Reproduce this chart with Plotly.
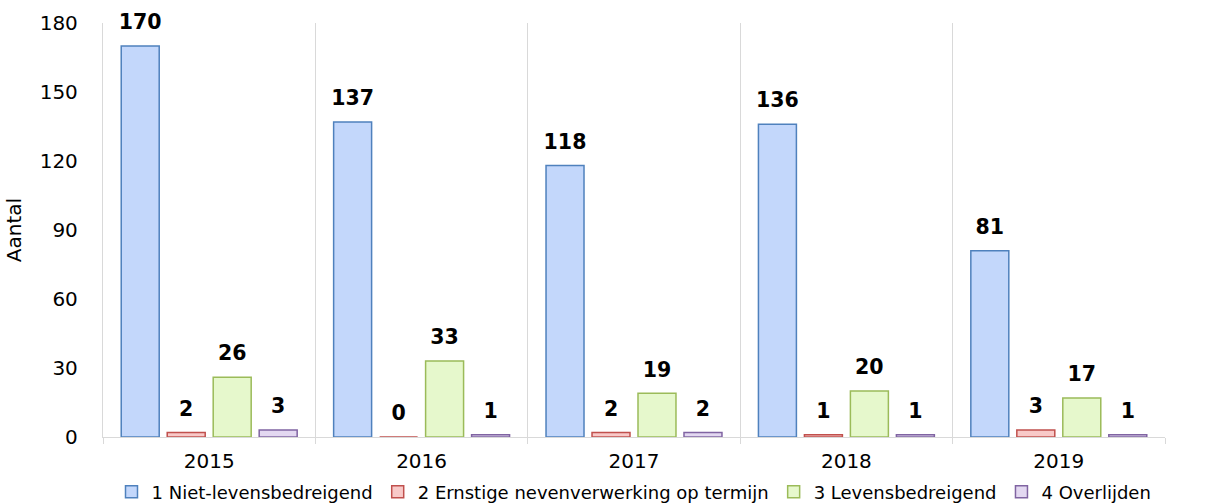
import plotly.graph_objects as go

years = ["2015", "2016", "2017", "2018", "2019"]
series_names = [
    "1 Niet-levensbedreigend",
    "2 Ernstige nevenverwerking op termijn",
    "3 Levensbedreigend",
    "4 Overlijden",
]
niet_levensbedreigend = [170, 137, 118, 136, 81]
ernstige_nevenverwerking = [2, 0, 2, 1, 3]
levensbedreigend = [26, 33, 19, 20, 17]
overlijden = [3, 1, 2, 1, 1]

values = [niet_levensbedreigend, ernstige_nevenverwerking, levensbedreigend, overlijden]
fills = ["#c3d7fb", "#f8c9c8", "#e6f8cc", "#e3d8f1"]
edges = ["#4f81bd", "#c0504d", "#9bbb59", "#8064a2"]

font_family = "DejaVu Sans, Verdana, sans-serif"
GAP = 0.134

fig = go.Figure()
for name, vals, fill, edge in zip(series_names, values, fills, edges):
    fig.add_trace(go.Bar(
        x=years, y=vals, name=name,
        marker=dict(color=fill, line=dict(color=edge, width=1.5)),
        hoverinfo="x+y+name",
    ))

# value labels, grouped like the bars so each sits above its own bar;
# the invisible marker keeps the label clear of the bar top
for name, vals in zip(series_names, values):
    fig.add_trace(go.Scatter(
        x=years, y=vals, mode="markers+text", text=[str(v) for v in vals],
        textposition="top center",
        marker=dict(size=17, color="rgba(0,0,0,0)"),
        textfont=dict(family=font_family, size=20.5, color="#000000", weight="bold"),
        showlegend=False, hoverinfo="skip", cliponaxis=False,
    ))

fig.update_layout(
    width=1219, height=503,
    margin=dict(l=103, r=54, t=23, b=66, autoexpand=False),
    paper_bgcolor="white", plot_bgcolor="white",
    barmode="group", bargap=GAP, bargroupgap=0.174,
    scattermode="group", scattergap=GAP,
    font=dict(family=font_family, size=20, color="#000000"),
    showlegend=True,
    legend=dict(orientation="h", x=0.5, xanchor="center",
                y=-0.133, yanchor="middle",
                font=dict(size=18), itemwidth=30, tracegroupgap=0,
                itemclick=False),
)
fig.update_xaxes(
    type="category", tickson="boundaries", ticks="outside", ticklen=6,
    tickcolor="#d9d9d9", showgrid=True, gridcolor="#d9d9d9", gridwidth=1.3,
    showline=True, linecolor="#d9d9d9", linewidth=1.3,
    tickfont=dict(size=20), ticklabelstandoff=6, fixedrange=True,
)
fig.update_yaxes(
    range=[0, 180], tickvals=[0, 30, 60, 90, 120, 150, 180],
    showgrid=False, zeroline=False, showline=True, linecolor="#d9d9d9", linewidth=1.3,
    ticks="", tickfont=dict(size=20), ticklabelstandoff=20,
    title=dict(text="Aantal", font=dict(size=20), standoff=12),
    fixedrange=True,
)

fig.write_html("out.html", config={"displayModeBar": False})
